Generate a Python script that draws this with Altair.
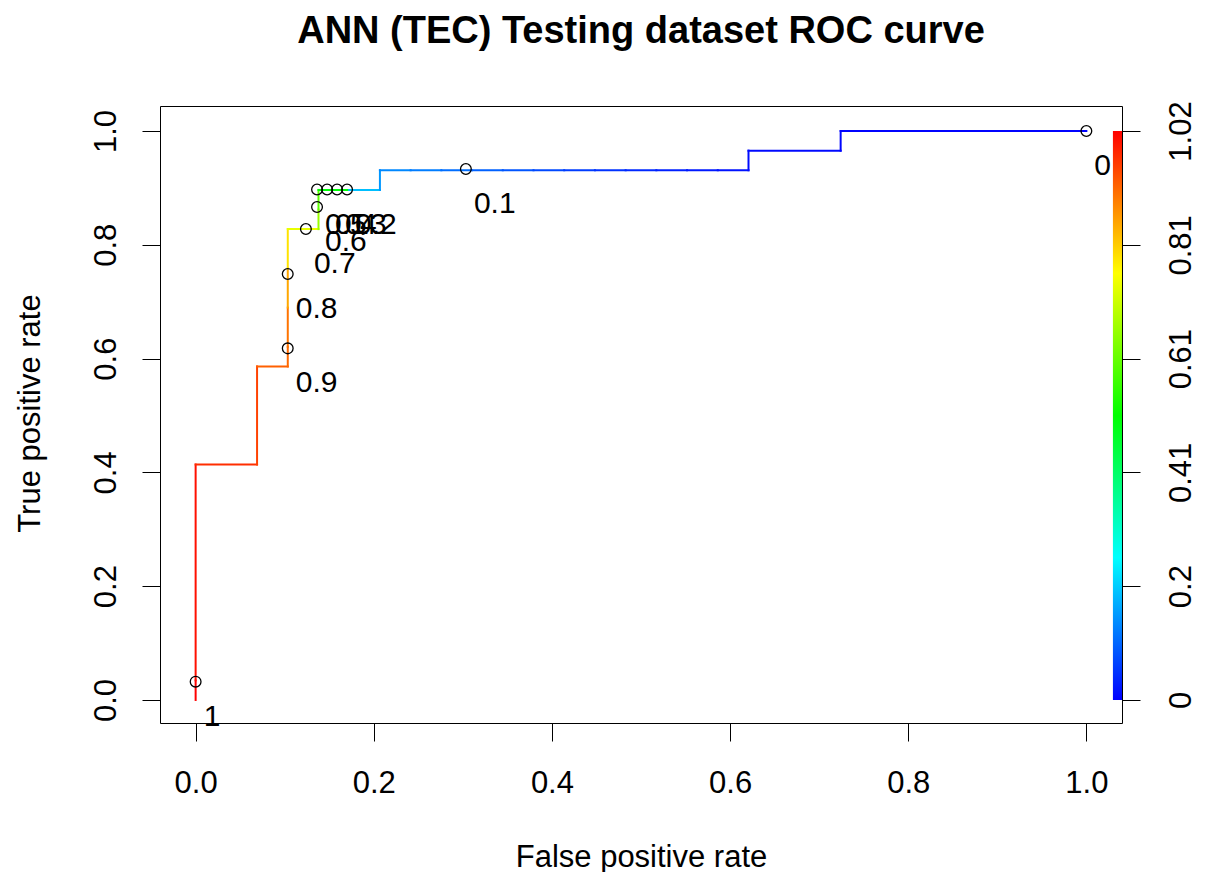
import altair as alt
import pandas as pd

# ---------------- data ----------------
N = 29  # positives / negatives used to express the step positions
# ROC step-curve vertices (counts of /29) and cutoff at each vertex
roc_fpr_n = [0, 0, 0, 2, 2, 3, 3, 3, 3, 3, 4, 4, 4, 5, 6, 6, 7, 8, 9, 10, 11, 12, 13, 14, 15, 16, 17, 18, 18, 21, 21, 29]
roc_tpr_n = [0, 1, 12, 12, 17, 17, 18, 20, 22, 24, 24, 25, 26, 26, 26, 27, 27, 27, 27, 27, 27, 27, 27, 27, 27, 27, 27, 27, 28, 28, 29, 29]
roc_cutoff = [1.016, 1.0, 0.97, 0.95, 0.92, 0.91, 0.90, 0.85, 0.79, 0.74, 0.66, 0.60, 0.50, 0.19, 0.15, 0.135,
              0.125, 0.11, 0.097, 0.085, 0.072, 0.06, 0.05, 0.04, 0.032, 0.025, 0.018, 0.012, 0.009, 0.005, 0.003, 0.0]

# cutoff markers printed on the curve
mark_labels = ["1", "0.9", "0.8", "0.7", "0.6", "0.5", "0.4", "0.3", "0.2", "0.1", "0"]
mark_fpr = [0.0, 0.1034, 0.1034, 0.1238, 0.1363, 0.1363, 0.1476, 0.1588, 0.1700, 0.3034, 1.0]
mark_tpr = [0.0322, 0.618, 0.7487, 0.8278, 0.8664, 0.8972, 0.8972, 0.8972, 0.8972, 0.9332, 1.0]

# colour bar (cutoff scale) and its tick labels
cbar_min, cbar_max = 0.0, 1.016
cbar_tick_pos = [0.0, 0.2, 0.4, 0.6, 0.8, 1.0]
cbar_tick_labels = ["0", "0.2", "0.41", "0.61", "0.81", "1.02"]
cbar_x = [1.0298, 1.04]
cbar_y = [0.0, 1.0]

axis_ticks = [0.0, 0.2, 0.4, 0.6, 0.8, 1.0]

# ---------------- tables ----------------
fpr = [v / N for v in roc_fpr_n]
tpr = [v / N for v in roc_tpr_n]
seg = pd.DataFrame({
    "x": fpr[:-1], "y": tpr[:-1], "x2": fpr[1:], "y2": tpr[1:], "cutoff": roc_cutoff[:-1]
})
marks = pd.DataFrame({"fpr": mark_fpr, "tpr": mark_tpr, "label": mark_labels})
cbar = pd.DataFrame({"x0": [cbar_x[0]], "x1": [cbar_x[1]], "y0": [cbar_y[0]], "y1": [cbar_y[1]]})

FONT = "Liberation Sans"
XDOM = [-0.04, 1.04]
YDOM = [-0.0405, 1.044]
xs = alt.Scale(domain=XDOM, nice=False, zero=False)
ys = alt.Scale(domain=YDOM, nice=False, zero=False)

rainbow = ["#0000ff", "#00ffff", "#00ff00", "#ffff00", "#ff0000"]
cdom = [cbar_min + (cbar_max - cbar_min) * k / 4 for k in range(5)]

x_axis = alt.Axis(values=axis_ticks, format=".1f", tickSize=18, tickColor="black", labelColor="black",
                  labelFontSize=31, labelFont=FONT, labelPadding=51, labelBaseline="alphabetic",
                  labelFlush=False, labelOverlap=False, domain=False, grid=False,
                  title="False positive rate", titleFont=FONT, titleFontSize=31, titleFontWeight="normal",
                  titleColor="black", titleX=481, titleY=143, titleBaseline="alphabetic", titleAlign="center")
y_axis = alt.Axis(values=axis_ticks, format=".1f", tickSize=18, tickColor="black", labelColor="black",
                  labelFontSize=31, labelFont=FONT, labelAngle=270, labelAlign="center",
                  labelBaseline="alphabetic", labelPadding=27, labelFlush=False, labelOverlap=False,
                  domain=False, grid=False,
                  title="True positive rate", titleFont=FONT, titleFontSize=31, titleFontWeight="normal",
                  titleColor="black", titleX=-121, titleY=307, titleAngle=270, titleBaseline="alphabetic",
                  titleAlign="center")

expr = ""
for p, l in zip(cbar_tick_pos, cbar_tick_labels):
    expr += f"abs(datum.value - {p}) < 0.01 ? '{l}' : "
expr += "''"
r_axis = alt.Axis(orient="right", values=cbar_tick_pos, labelExpr=expr, tickSize=18, tickColor="black",
                  labelColor="black", labelFontSize=31, labelFont=FONT, labelAngle=270, labelAlign="center",
                  labelBaseline="alphabetic", labelPadding=50, labelFlush=False, labelOverlap=False,
                  domain=False, grid=False, title=None)

line = alt.Chart(seg).mark_rule(strokeWidth=2, strokeCap="square").encode(
    x=alt.X("x:Q", scale=xs, axis=x_axis),
    y=alt.Y("y:Q", scale=ys, axis=y_axis),
    x2="x2:Q",
    y2="y2:Q",
    color=alt.Color("cutoff:Q", scale=alt.Scale(domain=cdom, range=rainbow, interpolate="rgb"), legend=None),
)

pts = alt.Chart(marks).mark_point(shape="circle", filled=False, color="black", size=115,
                                  strokeWidth=1.3, opacity=1).encode(
    x=alt.X("fpr:Q", scale=xs, axis=x_axis),
    y=alt.Y("tpr:Q", scale=ys, axis=None),
)

labels = alt.Chart(marks).mark_text(align="left", baseline="alphabetic", dx=8, dy=44, fontSize=30,
                                    font=FONT, color="black").encode(
    x=alt.X("fpr:Q", scale=xs, axis=x_axis),
    y=alt.Y("tpr:Q", scale=ys, axis=None),
    text="label:N",
)

grad = alt.LinearGradient(
    gradient="linear",
    stops=[alt.GradientStop(color=c, offset=k / 4) for k, c in enumerate(rainbow)],
    x1=0, x2=0, y1=1, y2=0,
)
bar = alt.Chart(cbar).mark_rect(fill=grad).encode(
    x=alt.X("x0:Q", scale=xs, axis=x_axis),
    x2="x1:Q",
    y=alt.Y("y0:Q", scale=ys, axis=r_axis),
    y2="y1:Q",
)

chart = alt.layer(line, pts, labels, bar).resolve_scale(y="independent").properties(
    width=962,
    height=617,
    autosize=alt.AutoSizeParams(type="none"),
    padding={"left": 152, "top": 98, "right": 77, "bottom": 149},
    background="white",
    title=alt.TitleParams("ANN (TEC) Testing dataset ROC curve", fontSize=38, font=FONT, fontWeight="bold",
                          anchor="middle", frame="group", baseline="alphabetic", offset=20, color="black"),
).configure_view(stroke="black", strokeWidth=1)

chart.save("out.html", embed_options={"renderer": "svg", "actions": False})
